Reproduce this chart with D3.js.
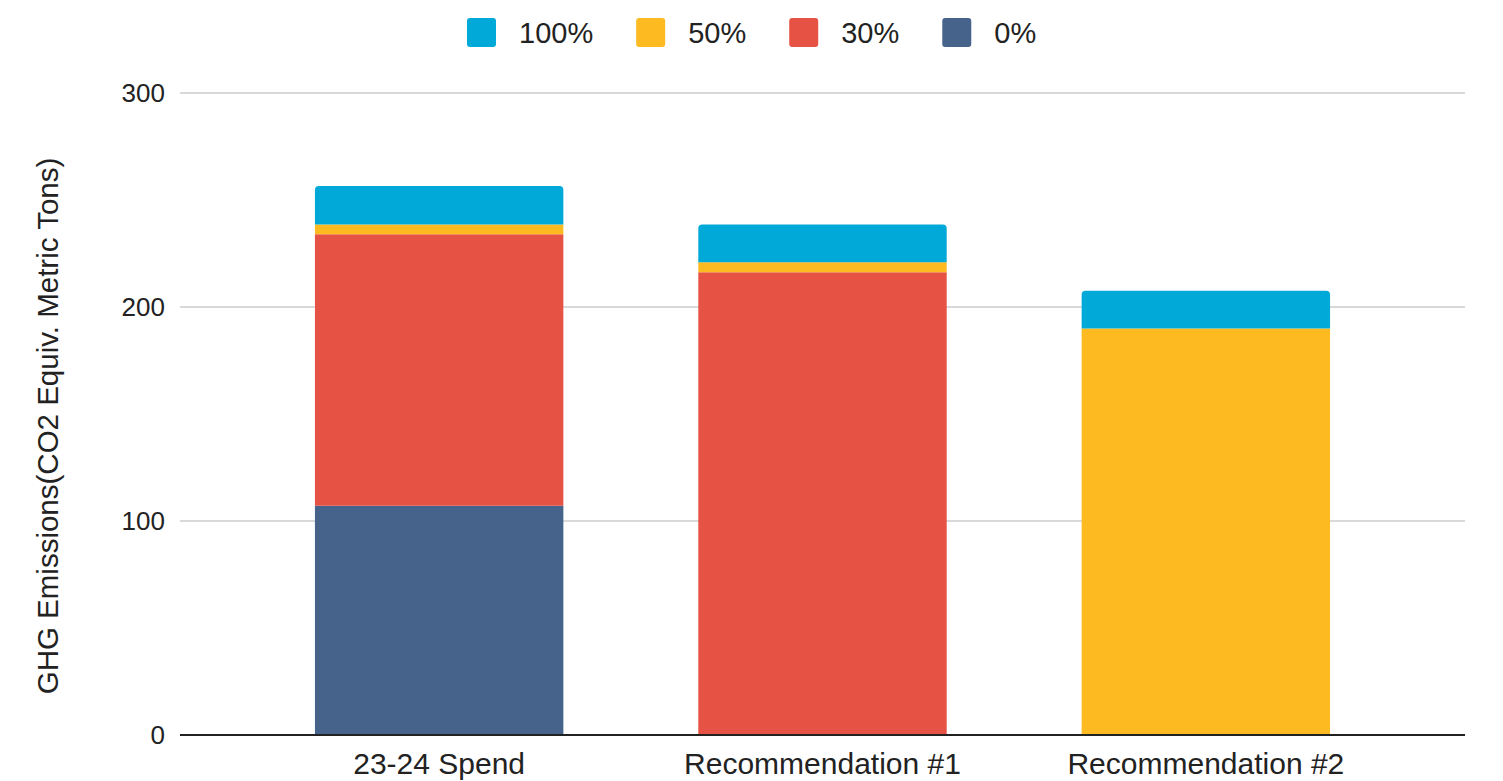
<!DOCTYPE html>
<html>
<head>
<meta charset="utf-8">
<script src="https://cdn.jsdelivr.net/npm/d3@7"></script>
<style>
  html, body { margin: 0; padding: 0; background: #ffffff; }
  svg { display: block; font-family: "Liberation Sans", Arial, sans-serif; }
</style>
</head>
<body>
<svg id="chart" width="1503" height="781"></svg>
<script>
// Categories and stacked series (CO2 equivalent metric tons)
const categories = ["23-24 Spend", "Recommendation #1", "Recommendation #2"];
const seriesNames = ["0%", "30%", "50%", "100%"];
const values0   = [107.1, 0, 0];
const values30  = [126.9, 216.2, 0];
const values50  = [4.6, 4.7, 190.0];
const values100 = [17.9, 17.7, 17.6];
const yTicks = [0, 100, 200, 300];
const legendOrder = ["100%", "50%", "30%", "0%"];
const colors = { "100%": "#00A9D7", "50%": "#FDBA21", "30%": "#E65244", "0%": "#45638B" };

(function () {
  const rows = categories.map((c, i) => ({
    category: c,
    "0%": values0[i], "30%": values30[i], "50%": values50[i], "100%": values100[i]
  }));

  const svg = d3.select("#chart");
  const plotLeft = 180, plotRight = 1465, plotTop = 93, plotBottom = 735;

  const x = d3.scaleBand().domain(categories).range([plotLeft, plotRight])
    .paddingInner(0.352).paddingOuter(0.352);
  const y = d3.scaleLinear().domain([0, 300]).range([plotBottom, plotTop]);

  // Gridlines
  svg.append("g").selectAll("line").data(yTicks.filter(t => t > 0)).join("line")
    .attr("x1", plotLeft).attr("x2", plotRight)
    .attr("y1", d => y(d)).attr("y2", d => y(d))
    .attr("stroke", "#cccccc").attr("stroke-width", 1.5);

  // Y tick labels
  svg.append("g").selectAll("text").data(yTicks).join("text")
    .attr("x", 165).attr("y", d => y(d))
    .attr("dy", "0.36em").attr("text-anchor", "end")
    .attr("font-size", 26).attr("fill", "#222")
    .text(d => d);

  // Stacked bars
  const stack = d3.stack().keys(seriesNames)(rows);
  const r = 4;
  stack.forEach((layer, li) => {
    const key = layer.key;
    svg.append("g").attr("fill", colors[key]).selectAll("path")
      .data(layer.filter(d => d[1] - d[0] > 0))
      .join("path")
      .attr("d", d => {
        const x0 = x(d.data.category), w = x.bandwidth();
        const yTop = y(d[1]), yBot = y(d[0]);
        // the topmost segment of each bar gets rounded upper corners
        const isTop = li === stack.length - 1;
        if (!isTop) return `M${x0},${yBot}V${yTop}H${x0 + w}V${yBot}Z`;
        return `M${x0},${yBot}V${yTop + r}Q${x0},${yTop} ${x0 + r},${yTop}` +
               `H${x0 + w - r}Q${x0 + w},${yTop} ${x0 + w},${yTop + r}V${yBot}Z`;
      });
  });

  // Baseline
  svg.append("line")
    .attr("x1", plotLeft).attr("x2", plotRight)
    .attr("y1", y(0)).attr("y2", y(0))
    .attr("stroke", "#222").attr("stroke-width", 2);

  // Category labels
  svg.append("g").selectAll("text").data(categories).join("text")
    .attr("x", d => x(d) + x.bandwidth() / 2).attr("y", 774)
    .attr("text-anchor", "middle").attr("font-size", 30).attr("fill", "#222")
    .text(d => d);

  // Y axis title
  svg.append("text")
    .attr("transform", "translate(58,426) rotate(-90)")
    .attr("text-anchor", "middle").attr("font-size", 29.5).attr("fill", "#222")
    .text("GHG Emissions(CO2 Equiv. Metric Tons)");

  // Legend
  const legend = svg.append("g");
  let lx = 467;
  legendOrder.forEach(k => {
    legend.append("rect").attr("x", lx).attr("y", 18).attr("width", 29).attr("height", 29)
      .attr("rx", 3).attr("fill", colors[k]);
    const t = legend.append("text").attr("x", lx + 29 + 23).attr("y", 33)
      .attr("dy", "0.36em").attr("font-size", 29).attr("fill", "#222").text(k);
    lx += 29 + 23 + t.node().getComputedTextLength() + 43;
  });
})();
</script>
</body>
</html>
